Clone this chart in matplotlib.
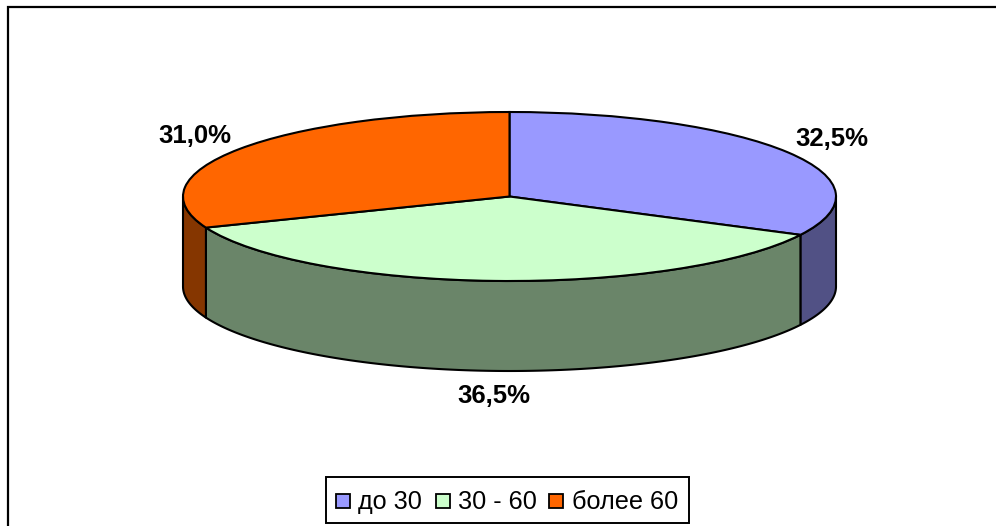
import numpy as np
import matplotlib
matplotlib.use("Agg")
import matplotlib.pyplot as plt
from matplotlib.patches import Polygon, Rectangle

categories = ["до 30", "30 - 60", "более 60"]
values = [32.5, 36.5, 31.0]
labels = ["32,5%", "36,5%", "31,0%"]
top_colors = ["#9999FF", "#CCFFCC", "#FF6600"]
side_colors = ["#515185", "#6A8569", "#853600"]

W, H = 996, 526
CX, CY, RX, RY, DEPTH = 509.5, 196.5, 326.5, 84.5, 90
LW = 1.5
plt.rcParams["font.family"] = ["Liberation Sans", "DejaVu Sans"]
fig = plt.figure(figsize=(W / 100, H / 100), dpi=100, facecolor="white")

# Frame axes in pixel coordinates (y downward)
bg = fig.add_axes([0, 0, 1, 1])
bg.set_xlim(0, W)
bg.set_ylim(H, 0)
bg.axis("off")
# Chart-area border: only its top and left edges fall inside the picture
bg.plot([8, 8, W], [H, 7, 7], color="black", lw=1.6, solid_joinstyle="miter")

fr = np.cumsum([0] + values) / sum(values)
angles = 90 - 360 * fr

def px(a):
    r = np.radians(a)
    return CX + RX * np.cos(r), CY - RY * np.sin(r)

# Side walls: only the visible front arcs
for i in range(len(values)):
    lo, hi = max(angles[i + 1], -180), min(angles[i], 0)
    if lo < hi:
        t = np.linspace(lo, hi, 200)
        x, y = px(t)
        pts = np.r_[np.c_[x, y], np.c_[x, y + DEPTH][::-1]]
        bg.add_patch(Polygon(pts, closed=True, fc=side_colors[i], ec="black", lw=LW, joinstyle="round"))

# Top face: real pie wedges, in an axes mapped to the ellipse box
left, right = CX - RX, CX + RX
top, bottom = CY - RY, CY + RY
pie_ax = fig.add_axes([left / W, 1 - bottom / H, (right - left) / W, (bottom - top) / H])
pie_ax.pie(values, colors=top_colors, startangle=90, counterclock=False, radius=1, frame=True,
           wedgeprops=dict(edgecolor="black", linewidth=LW, clip_on=False), normalize=True)
pie_ax.set_xlim(-1, 1)
pie_ax.set_ylim(-1, 1)
pie_ax.set_aspect("auto")
pie_ax.axis("off")

# Data labels
label_pos = [(832, 138.5), (494, 396), (194.5, 136)]
for s, (x, y) in zip(labels, label_pos):
    bg.text(x, y, s, ha="center", va="center", fontsize=18.5, fontweight="bold", color="black")

# Legend
bg.add_patch(Rectangle((326, 477), 363, 46, fc="white", ec="black", lw=1.4, zorder=3))
swatch_x = [336, 436, 549]
text_x = [358, 458, 572]
for sx, tx, c, s in zip(swatch_x, text_x, top_colors, categories):
    bg.add_patch(Rectangle((sx, 494), 14, 14, fc=c, ec="black", lw=1.3, zorder=4))
    bg.text(tx, 502, s, ha="left", va="center", fontsize=18.2, color="black", zorder=4)

fig.savefig("out.png", dpi=100, facecolor="white")
